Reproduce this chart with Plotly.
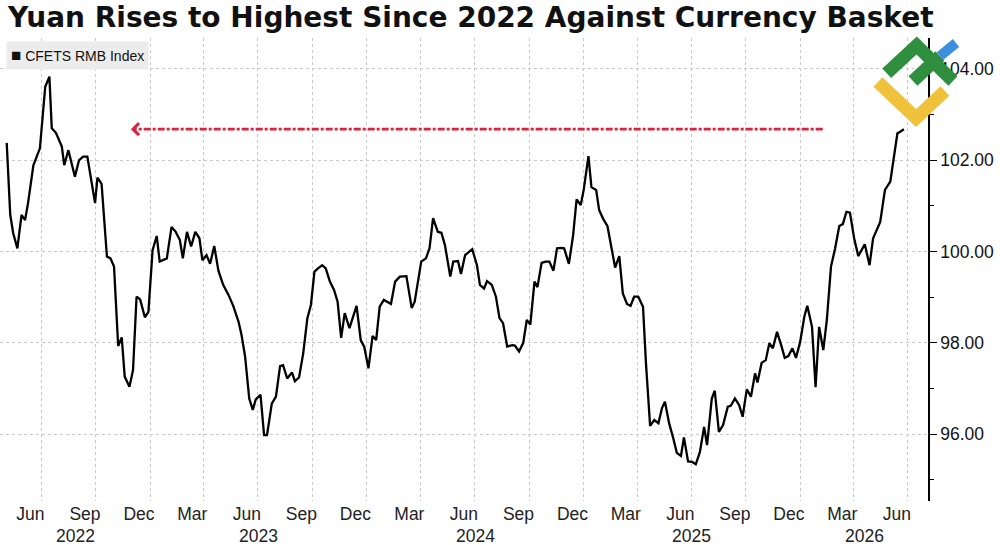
import plotly.graph_objects as go
import pandas as pd

TITLE = "Yuan Rises to Highest Since 2022 Against Currency Basket"
SERIES_NAME = "CFETS RMB Index"

dates = [
    "2022-05-04", "2022-05-10", "2022-05-15", "2022-05-22", "2022-05-29", "2022-06-04", "2022-06-09",
    "2022-06-18", "2022-06-29", "2022-07-08", "2022-07-15", "2022-07-19", "2022-07-26", "2022-08-05",
    "2022-08-09", "2022-08-16", "2022-08-27", "2022-09-03", "2022-09-10", "2022-09-17", "2022-09-30",
    "2022-10-04", "2022-10-11", "2022-10-20", "2022-10-26", "2022-11-01", "2022-11-08", "2022-11-14",
    "2022-11-19", "2022-11-27", "2022-12-03", "2022-12-09", "2022-12-15", "2022-12-23", "2022-12-29",
    "2023-01-05", "2023-01-12", "2023-01-17", "2023-01-29", "2023-02-06", "2023-02-13", "2023-02-20",
    "2023-02-25", "2023-03-04", "2023-03-11", "2023-03-18", "2023-03-25", "2023-03-30", "2023-04-06",
    "2023-04-12", "2023-04-19", "2023-04-26", "2023-05-04", "2023-05-13", "2023-05-21", "2023-05-30",
    "2023-06-04", "2023-06-10", "2023-06-17", "2023-06-23", "2023-06-28", "2023-07-06", "2023-07-12",
    "2023-07-17", "2023-07-25", "2023-08-01", "2023-08-08", "2023-08-13", "2023-08-20", "2023-08-28",
    "2023-09-02", "2023-09-09", "2023-09-16", "2023-09-23", "2023-09-29", "2023-10-05", "2023-10-11",
    "2023-10-18", "2023-10-24", "2023-10-31", "2023-11-07", "2023-11-13", "2023-11-19", "2023-11-25",
    "2023-12-03", "2023-12-08", "2023-12-15", "2023-12-22", "2023-12-28",
    "2024-01-04", "2024-01-11", "2024-01-17", "2024-01-23", "2024-01-30", "2024-02-11", "2024-02-18",
    "2024-02-26", "2024-03-08", "2024-03-17", "2024-03-22", "2024-04-02", "2024-04-10", "2024-04-16",
    "2024-04-22", "2024-04-30", "2024-05-06", "2024-05-12", "2024-05-21", "2024-05-26", "2024-06-03",
    "2024-06-08", "2024-06-15", "2024-06-27", "2024-07-05", "2024-07-10", "2024-07-17", "2024-07-22",
    "2024-07-30", "2024-08-06", "2024-08-12", "2024-08-18", "2024-08-25", "2024-09-03", "2024-09-07",
    "2024-09-14", "2024-09-21", "2024-09-27", "2024-10-03", "2024-10-10", "2024-10-15", "2024-10-22",
    "2024-10-29", "2024-11-04", "2024-11-11", "2024-11-17", "2024-11-24", "2024-11-29", "2024-12-07",
    "2024-12-14", "2024-12-20", "2024-12-27",
    "2025-01-01", "2025-01-09", "2025-01-14", "2025-01-22", "2025-01-27", "2025-02-03", "2025-02-10",
    "2025-02-16", "2025-02-23", "2025-03-02", "2025-03-08", "2025-03-15", "2025-03-21", "2025-03-27",
    "2025-04-03", "2025-04-11", "2025-04-16", "2025-04-23", "2025-04-30", "2025-05-07", "2025-05-13",
    "2025-05-18", "2025-05-25", "2025-06-01", "2025-06-07", "2025-06-14", "2025-06-19", "2025-06-26",
    "2025-07-03", "2025-07-09", "2025-07-16", "2025-07-23", "2025-07-28", "2025-08-05", "2025-08-10",
    "2025-08-17", "2025-08-24", "2025-09-01", "2025-09-06", "2025-09-13", "2025-09-20", "2025-09-26",
    "2025-10-03", "2025-10-10", "2025-10-17", "2025-10-21", "2025-10-28", "2025-11-04", "2025-11-10",
    "2025-11-16", "2025-11-23", "2025-11-30", "2025-12-06", "2025-12-12", "2025-12-19", "2025-12-25",
    "2026-01-01", "2026-01-08", "2026-01-13", "2026-01-21", "2026-01-27", "2026-02-02", "2026-02-09",
    "2026-02-15", "2026-02-22", "2026-03-01", "2026-03-08", "2026-03-14", "2026-03-20", "2026-03-26",
    "2026-04-02", "2026-04-09", "2026-04-20", "2026-04-28", "2026-05-04", "2026-05-16", "2026-05-24",
    "2026-06-02", "2026-06-07", "2026-06-14", "2026-06-18", "2026-06-25",
]

values = [
    102.38, 100.80, 100.40, 100.07, 100.80, 100.69, 101.06, 101.89, 102.26, 103.61, 103.83, 102.70,
    102.60, 102.30, 101.89, 102.22, 101.64, 102.00, 102.08, 102.08, 101.06, 101.62, 101.48, 99.89,
    99.85, 99.67, 97.93, 98.12, 97.26, 97.04, 97.40, 99.01, 98.95, 98.56, 98.68,
    100.03, 100.34, 99.78, 99.85, 100.54, 100.43, 100.25, 99.85, 100.43, 100.11, 100.43, 100.29,
    99.81, 99.92, 99.73, 100.12, 99.58, 99.27, 99.05, 98.81, 98.46, 98.17, 97.70, 96.78, 96.53,
    96.76, 96.86, 95.98, 95.98, 96.67, 96.82, 97.49, 97.51, 97.22, 97.35, 97.16, 97.24, 97.77,
    98.54, 98.83, 99.56, 99.63, 99.70, 99.63, 99.34, 99.16, 98.90, 98.11, 98.65, 98.32, 98.54,
    98.81, 98.06, 97.91,
    97.44, 98.15, 98.06, 98.79, 98.94, 98.85, 99.34, 99.45, 99.46, 98.76, 98.90, 99.78, 99.85,
    100.07, 100.73, 100.43, 100.41, 100.14, 99.45, 99.78, 99.79, 99.51, 99.92, 100.05, 99.70,
    99.27, 99.19, 99.35, 99.27, 99.01, 98.54, 98.43, 97.92, 97.95, 97.94, 97.81, 98.00, 98.50,
    98.40, 99.34, 99.22, 99.75, 99.78, 99.78, 99.58, 100.07, 100.08, 100.07, 99.73, 100.34,
    101.14, 101.02,
    101.35, 102.09, 101.41, 101.35, 100.91, 100.71, 100.56, 100.11, 99.65, 99.90, 99.08, 98.85,
    98.81, 99.01, 99.01, 98.79, 97.55, 96.18, 96.31, 96.24, 96.57, 96.71, 96.24, 95.91, 95.59,
    95.52, 95.93, 95.40, 95.39, 95.34, 95.61, 96.16, 95.76, 96.78, 96.95, 96.05, 96.20, 96.60,
    96.62, 96.78, 96.64, 96.38, 96.98, 96.82, 97.33, 97.13, 97.56, 97.62, 97.99, 97.88, 98.24,
    97.95, 97.67, 97.71, 97.88, 97.67,
    98.02, 98.57, 98.81, 98.35, 97.03, 98.35, 97.84, 98.50, 99.67, 100.07, 100.56, 100.60, 100.87,
    100.85, 100.29, 99.90, 100.16, 99.70, 100.29, 100.65, 101.35, 101.53, 101.95, 102.59, 102.62,
    102.68,
]

Y_TICKS = [96, 98, 100, 102, 104]
Y_MINOR_TICKS = [95, 97, 99, 101, 103]
X_START, X_END = "2022-04-22 17:00", "2026-08-04 14:00"
Y_MIN, Y_MAX = 94.535, 104.677
ARROW_FROM, ARROW_TO = "2026-02-08", "2022-12-03"
YEARS = [2022, 2023, 2024, 2025, 2026]

FONT = "Liberation Sans, Arial, sans-serif"
GRID = "#c9c9c9"
RED = "#d8243f"

x = pd.to_datetime(dates)
arrow_level = values[-1]

label_dates = pd.date_range("2022-06-01", "2026-06-01", freq="3MS") + pd.Timedelta(days=12)
label_text = [d.strftime("%b") for d in label_dates]
grid_dates = pd.date_range("2022-07-01", "2026-07-01", freq="3MS")

fig = go.Figure()
fig.add_trace(go.Scatter(
    x=x, y=values, mode="lines", name=SERIES_NAME, showlegend=False,
    line=dict(color="#000000", width=2.3),
))

# reference arrow (dash-dot line + open chevron head)
fig.add_shape(type="line", xref="x", yref="y", x0=ARROW_FROM, x1=ARROW_TO,
              y0=arrow_level, y1=arrow_level,
              line=dict(color=RED, width=2.6, dash="7px,2px,3px,2px"))
fig.add_shape(type="path", xref="x", yref="y", xsizemode="pixel", ysizemode="pixel",
              xanchor=ARROW_TO, yanchor=arrow_level, path="M 6 6 L 0 0 L 6 -6",
              line=dict(color=RED, width=3))

# year labels centred on the visible part of each year
x0, x1 = pd.Timestamp(X_START), pd.Timestamp(X_END)
for yr in YEARS:
    s = max(pd.Timestamp(f"{yr}-01-01"), x0)
    e = min(pd.Timestamp(f"{yr + 1}-01-01"), x1)
    mid = s + (e - s) / 2
    fig.add_annotation(x=mid, xref="x", y=-0.076, yref="paper", text=str(yr),
                       showarrow=False, yanchor="middle",
                       font=dict(family=FONT, size=17.5, color="#222222"))

# legend box
fig.add_annotation(x=6 / 928, y=1 - 3 / 463, xref="paper", yref="paper",
                   xanchor="left", yanchor="top", showarrow=False,
                   text="<span style='font-size:17px'>■</span> " + SERIES_NAME,
                   bgcolor="#ececec", borderpad=4,
                   font=dict(family=FONT, size=14, color="#111111"))

# logo (decorative)
W, H, B = 928.0, 463.0, 501.0
def pp(px, py):
    return f"{px / W:.4f},{(B - py) / H:.4f}"
logo = [
    ([(886.7, 73.3), (916.7, 45.5), (953, 81)], "#2f8f3e", 13),
    ([(913, 81), (940, 56)], "#2f8f3e", 13),
    ([(940, 56), (956, 43)], "#3d8fdd", 10),
    ([(878, 82), (916, 118), (945, 91)], "#f0c23c", 13),
]
for pts, col, w in logo:
    path = "M " + " L ".join(pp(*p) for p in pts)
    fig.add_shape(type="path", xref="paper", yref="paper", path=path, layer="above",
                  line=dict(color=col, width=w))

fig.update_layout(
    width=1000, height=545,
    margin=dict(l=0, r=72, t=38, b=44),
    paper_bgcolor="white", plot_bgcolor="white",
    showlegend=False,
    title=dict(text=TITLE, x=8 / 1000, xanchor="left", xref="container",
               y=1 - 17 / 545, yanchor="middle", yref="container",
               font=dict(family="DejaVu Sans, sans-serif", size=28, color="#111111", weight="bold")),
    xaxis=dict(
        type="date", range=[X_START, X_END],
        tickmode="array", tickvals=label_dates, ticktext=label_text,
        showgrid=False, showline=False, zeroline=False, ticks="",
        tickfont=dict(family=FONT, size=17.5, color="#222222"),
        minor=dict(tickmode="array", tickvals=grid_dates, showgrid=True, gridcolor=GRID,
                   griddash="dot", gridwidth=1, ticks=""),
    ),
    yaxis=dict(
        side="right", range=[Y_MIN, Y_MAX],
        tickmode="array", tickvals=Y_TICKS, tickformat=".2f",
        ticks="outside", ticklen=7, tickwidth=1.2, tickcolor="#000000",
        showline=True, linecolor="#000000", linewidth=1.5,
        showgrid=True, gridcolor=GRID, griddash="dot", gridwidth=1,
        zeroline=False,
        tickfont=dict(family=FONT, size=17.5, color="#111111"),
        minor=dict(tickmode="array", tickvals=Y_MINOR_TICKS, ticks="outside", ticklen=4,
                   tickcolor="#000000", tickwidth=1.2, showgrid=False),
    ),
)

fig.write_html("out.html")
